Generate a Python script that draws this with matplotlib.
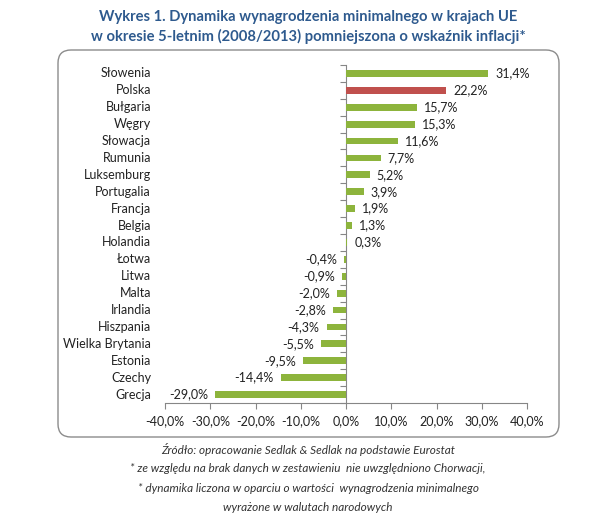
import matplotlib.pyplot as plt
from matplotlib.patches import FancyBboxPatch
from matplotlib.transforms import IdentityTransform
from matplotlib.ticker import FuncFormatter

plt.rcParams['font.family'] = ['Lato', 'DejaVu Sans']

# data
countries = ['Słowenia', 'Polska', 'Bułgaria', 'Węgry', 'Słowacja', 'Rumunia',
             'Luksemburg', 'Portugalia', 'Francja', 'Belgia', 'Holandia', 'Łotwa',
             'Litwa', 'Malta', 'Irlandia', 'Hiszpania', 'Wielka Brytania', 'Estonia',
             'Czechy', 'Grecja']
values = [31.4, 22.2, 15.7, 15.3, 11.6, 7.7, 5.2, 3.9, 1.9, 1.3, 0.3, -0.4,
          -0.9, -2.0, -2.8, -4.3, -5.5, -9.5, -14.4, -29.0]
x_ticks = [-40, -30, -20, -10, 0, 10, 20, 30, 40]

title = ('Wykres 1. Dynamika wynagrodzenia minimalnego w krajach UE\n'
         'w okresie 5-letnim (2008/2013) pomniejszona o wskaźnik inflacji*')
notes = ['Źródło: opracowanie Sedlak & Sedlak na podstawie Eurostat',
         '* ze względu na brak danych w zestawieniu  nie uwzględniono Chorwacji,',
         '* dynamika liczona w oparciu o wartości  wynagrodzenia minimalnego',
         'wyrażone w walutach narodowych']

green = '#8db43c'
red = '#c0504d'
axis_gray = '#868686'

fig = plt.figure(figsize=(6.16, 5.22), dpi=100)

# rounded frame around the chart (pixel coords)
frame = FancyBboxPatch((58, 522 - 437), 501, 387,
                       boxstyle='round,pad=0,rounding_size=13',
                       transform=IdentityTransform(),
                       facecolor='none', edgecolor='#8c8c8c', linewidth=1.0,
                       zorder=-1)
fig.add_artist(frame)

ax = fig.add_axes([165 / 616, (522 - 403) / 522, 362 / 616, 338 / 522])
ax.set_facecolor('none')

pos = list(range(len(countries)))
colors = [red if c == 'Polska' else green for c in countries]
ax.barh(pos, values, height=0.4, color=colors, zorder=3)

ax.set_ylim(len(countries) - 0.5, -0.5)
ax.set_xlim(-40, 40)

for p, v, c in zip(pos, values, countries):
    off = 5 if v >= 0 else -5
    ax.annotate(f'{v:.1f}%'.replace('.', ','), (v, p), xytext=(off, 0),
                textcoords='offset points', ha='left' if v >= 0 else 'right',
                va='center', fontsize=9, color='#222222')
    ax.annotate(c, (0, p), xycoords=('axes fraction', 'data'), xytext=(-10, 0),
                textcoords='offset points', ha='right', va='center',
                fontsize=9, color='#222222')

for s in ['top', 'right']:
    ax.spines[s].set_visible(False)
ax.spines['left'].set_position(('data', 0))
ax.spines['left'].set_color(axis_gray)
ax.spines['bottom'].set_color(axis_gray)

ax.set_yticks([p - 0.5 for p in pos] + [len(countries) - 0.5])
ax.set_yticklabels([])
ax.tick_params(axis='y', length=4, color=axis_gray, direction='out')

ax.set_xticks(x_ticks)
ax.xaxis.set_major_formatter(FuncFormatter(lambda v, _: f'{v:.1f}%'.replace('.', ',')))
ax.tick_params(axis='x', length=4, color=axis_gray, labelsize=9,
               labelcolor='#222222', pad=5)

fig.text(0.5, 1 - 27 / 522, title, ha='center', va='center', fontsize=10.6,
         fontweight='bold', color='#2e5a8e', linespacing=1.45)

for i, line in enumerate(notes):
    fig.text(0.5, 1 - (449 + i * 19.5) / 522, line, ha='center', va='center',
             fontsize=8.5, style='italic', color='#333333')

fig.savefig('out.png', dpi=100)
